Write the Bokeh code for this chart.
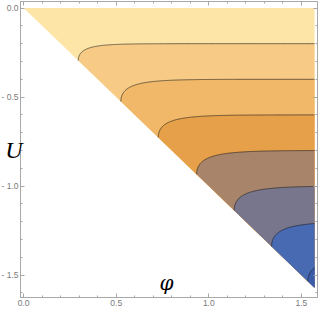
import numpy as np
from bokeh.plotting import figure
from bokeh.models import Range1d, FixedTicker, LinearAxis, Label, ColumnDataSource
from bokeh.embed import file_html
from bokeh.resources import INLINE

# contour levels of the field and how far each contour dips where it meets the diagonal U = -phi
levels = [-0.2, -0.4, -0.6, -0.8, -1.0, -1.2, -1.4]
dips = [0.095, 0.125, 0.127, 0.134, 0.137, 0.139, 0.135]
band_colors = ["#FDE5A7", "#F7CB86", "#F0B868", "#E7A04A",
               "#A8846A", "#78768C", "#486AB2", "#3A5CA8"]
x_ticks = [0.0, 0.5, 1.0, 1.5]
x_tick_labels = ["0.0", "0.5", "1.0", "1.5"]
y_ticks = [0.0, -0.5, -1.0, -1.5]
y_tick_labels = ["0.0", "- 0.5", "- 1.0", "- 1.5"]
x_minor = [round(0.1 * i, 1) for i in range(0, 16)]
y_minor = [round(-0.1 * i, 1) for i in range(0, 17)]
phi_max = np.pi / 2


def contour_curve(c, a):
    d = np.concatenate([np.linspace(0, 6 * a, 240), np.linspace(6 * a, 2.5, 60)[1:]])
    u = c - a * np.exp(-d / a)
    phi = d - u
    keep = phi < phi_max
    u_end = np.interp(phi_max, phi, u)
    return np.append(phi[keep], phi_max), np.append(u[keep], u_end)


curves = [contour_curve(c, a) for c, a in zip(levels, dips)]

band_xs, band_ys = [], []
for k in range(len(band_colors)):
    if k == 0:
        ux, uy = [0.0, phi_max], [0.0, 0.0]
    else:
        ux, uy = curves[k - 1]
        ux, uy = list(ux), list(uy)
    band_xs.append(list(ux) + [phi_max])
    band_ys.append(list(uy) + [-phi_max])

p = figure(width=319, height=312,
           x_range=Range1d(-0.017, 1.587), y_range=Range1d(-1.626, 0.037),
           output_backend="svg", toolbar_location=None,
           min_border_left=20, min_border_right=2, min_border_top=1, min_border_bottom=15)
p.grid.visible = False
p.outline_line_color = "#a8a8a8"
p.background_fill_color = "white"
p.border_fill_color = "white"

p.patches(xs="xs", ys="ys", fill_color="color", line_color=None,
          source=ColumnDataSource(dict(xs=band_xs, ys=band_ys, color=band_colors)))
p.multi_line(xs=[list(c[0]) for c in curves], ys=[list(c[1]) for c in curves],
             line_color="#1a1a1a", line_alpha=0.6, line_width=1)

axis_col = "#a8a8a8"
label_col = "#7a7a7a"


def style(ax, ticks, minor, labels):
    ax.ticker = FixedTicker(ticks=ticks, minor_ticks=minor)
    ax.major_label_overrides = {t: l for t, l in zip(ticks, labels)}
    ax.axis_line_color = axis_col
    ax.major_tick_line_color = axis_col
    ax.minor_tick_line_color = axis_col
    ax.major_tick_in = 4
    ax.major_tick_out = 0
    ax.minor_tick_in = 2
    ax.minor_tick_out = 0
    ax.major_label_standoff = 2
    ax.major_label_text_color = label_col
    ax.major_label_text_font = "Liberation Sans"
    ax.major_label_text_font_size = "8.5px"


style(p.xaxis[0], x_ticks, x_minor, x_tick_labels)
style(p.yaxis[0], y_ticks, y_minor, y_tick_labels)

yax = p.yaxis[0]
yax.axis_label = "U"
yax.axis_label_orientation = "horizontal"
yax.axis_label_text_font = "Liberation Serif"
yax.axis_label_text_font_style = "italic"
yax.axis_label_text_font_size = "24px"
yax.axis_label_text_color = "black"
yax.axis_label_standoff = -24

top = LinearAxis()
right = LinearAxis()
for ax, ticks, minor in ((top, x_ticks, x_minor), (right, y_ticks, y_minor)):
    style(ax, ticks, minor, ["" for _ in ticks])
    ax.major_label_standoff = 0
    ax.major_label_text_font_size = "0px"
p.add_layout(top, "above")
p.add_layout(right, "right")

p.add_layout(Label(x=0.772, y=-1.546, text="φ", text_font="DejaVu Serif",
                   text_font_style="italic", text_font_size="20px",
                   text_align="center", text_baseline="middle", text_color="black"))

open("out.html", "w").write(file_html(p, INLINE))
